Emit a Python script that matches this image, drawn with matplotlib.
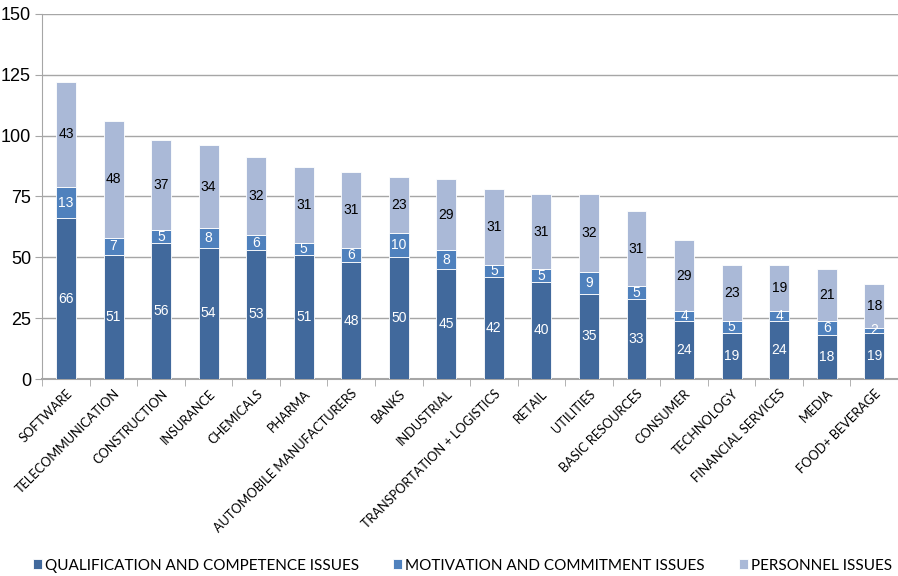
import matplotlib.pyplot as plt
import numpy as np

categories = ['SOFTWARE', 'TELECOMMUNICATION', 'CONSTRUCTION', 'INSURANCE', 'CHEMICALS',
              'PHARMA', 'AUTOMOBILE MANUFACTURERS', 'BANKS', 'INDUSTRIAL',
              'TRANSPORTATION + LOGISTICS', 'RETAIL', 'UTILITIES', 'BASIC RESOURCES',
              'CONSUMER', 'TECHNOLOGY', 'FINANCIAL SERVICES', 'MEDIA', 'FOOD+ BEVERAGE']
qualification = [66, 51, 56, 54, 53, 51, 48, 50, 45, 42, 40, 35, 33, 24, 19, 24, 18, 19]
motivation = [13, 7, 5, 8, 6, 5, 6, 10, 8, 5, 5, 9, 5, 4, 5, 4, 6, 2]
personnel = [43, 48, 37, 34, 32, 31, 31, 23, 29, 31, 31, 32, 31, 29, 23, 19, 21, 18]

series = [
    ('QUALIFICATION AND COMPETENCE ISSUES', qualification, '#41699C', 'white'),
    ('MOTIVATION AND COMMITMENT ISSUES', motivation, '#4F81BD', 'white'),
    ('PERSONNEL ISSUES', personnel, '#AAB9D7', 'black'),
]

fig = plt.figure(figsize=(8.98, 5.76), dpi=100)
ax = fig.add_axes([0.047, 0.342, 0.953, 0.634])

x = np.arange(len(categories))
bottom = np.zeros(len(categories))
for name, vals, color, tcolor in series:
    vals = np.array(vals, dtype=float)
    ax.bar(x, vals, width=0.42, bottom=bottom, color=color,
           edgecolor='white', linewidth=0.6, label=name, zorder=3)
    for xi, b, v in zip(x, bottom, vals):
        ax.text(xi, b + v / 2, f'{int(v)}', ha='center', va='center',
                color=tcolor, fontsize=10, family='Liberation Sans', zorder=4)
    bottom += vals

ax.set_xlim(-0.5, len(categories) - 0.5)
ax.set_ylim(0, 150)
ax.set_yticks([0, 25, 50, 75, 100, 125, 150])
ax.yaxis.grid(True, color='#A6A6A6', linewidth=1, zorder=0)
ax.tick_params(axis='y', labelsize=13, length=5, color='#A6A6A6', pad=3)
for lbl in ax.get_yticklabels():
    lbl.set_family('Liberation Sans')

ax.set_xticks(x)
ax.set_xticklabels(categories, rotation=45, ha='right', rotation_mode='anchor',
                   fontsize=9.2, family='Lato')
ax.tick_params(axis='x', length=0, pad=6)
ax.set_xticks(np.arange(len(categories) + 1) - 0.5, minor=True)
ax.tick_params(axis='x', which='minor', length=5, color='#A6A6A6')

for s in ['top', 'right']:
    ax.spines[s].set_visible(False)
ax.spines['left'].set_color('#A6A6A6')
ax.spines['bottom'].set_color('#A6A6A6')
ax.spines['bottom'].set_linewidth(1.5)

fig.legend(loc='lower center', bbox_to_anchor=(0.515, -0.018), ncol=3, frameon=False,
           prop={'family': 'Lato', 'size': 11}, handlelength=0.6, handleheight=0.6,
           handletextpad=0.2, columnspacing=2.2)

fig.savefig('out.png', dpi=100)
